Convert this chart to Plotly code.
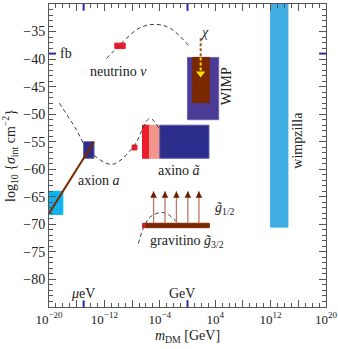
import plotly.graph_objects as go

# ---------------- data (log10 m/GeV , log10 sigma/cm^2) ----------------
region_names = ["neutrino", "axion_cdm", "axion_hot", "axion_misc",
                "axino_hot", "axino_warm", "axino_cold",
                "wimp", "wimp_core", "wimpzilla",
                "gravitino_warm", "gravitino"]
region_logm_lo = [-10.5, -15.0, -20.0, -8.0, -6.5, -5.5, -4.0, 0.0, 0.75, 12.0, -6.5, -6.0]
region_logm_hi = [-9.0, -13.5, -18.0, -7.3, -5.5, -4.0, 3.1, 4.5, 3.15, 14.5, -6.0, 3.15]
region_sig_lo = [-38.1, -58.0, -68.2, -56.5, -58.0, -58.0, -58.0, -51.0, -47.9, -70.5, -70.6, -70.6]
region_sig_hi = [-37.1, -55.0, -64.0, -55.6, -52.0, -52.0, -52.0, -39.7, -39.7, -30.0, -69.8, -69.8]

axion_line_logm = [-20.0, -13.5]
axion_line_sig = [-68.0, -55.0]

gravitino_arrow_logm = [-4.9, -3.25, -1.6, 0.05, 1.65]
gravitino_arrow_base = -69.8
gravitino_arrow_tip = -64.0

chi_logm = 1.9
chi_sig_start = -36.2
chi_sig_mid = -39.7
chi_sig_tip = -42.6

curve_upper_logm = [-11.7, -9.75, -7.0, -4.7, -2.5, 0.4]
curve_upper_sig = [-39.9, -37.4, -34.4, -33.7, -34.4, -37.9]
curve_lower_logm = [-18.5, -16.2, -14.3, -10.9, -7.8, -5.4, -2.5]
curve_lower_sig = [-48.0, -52.5, -56.5, -59.1, -55.9, -50.8, -57.0]
curve_grav_logm = [-7.1, -6.1, -5.1, -3.3, -1.1]
curve_grav_sig = [-73.5, -69.9, -68.4, -67.9, -70.2]

label_text = ["neutrino <i>ν</i>", "axion <i>a</i>", "axino <i>ã</i>",
              "gravitino <i>g̃</i><sub>3/2</sub>", "<i>g̃</i><sub>1/2</sub>",
              "<i>χ</i>", "fb", "<i>μ</i>eV", "GeV"]
label_logm = [-9.9, -12.8, -1.3, -0.1, 5.4, 2.5, -17.6, -15.1, -0.8]
label_sig = [-42.3, -62.0, -60.2, -73.2, -67.2, -35.2, -39.0, -82.6, -82.6]

vlabel_text = ["WIMP", "wimpzilla"]
vlabel_logm = [5.65, 15.75]
vlabel_sig = [-45.0, -54.7]

mark_logm = [-15.0, 0.0]   # μeV and GeV marks
mark_sig = [-39.0]         # femtobarn mark

x_tickvals = [-20, -16, -12, -8, -4, 0, 4, 8, 12, 16, 20]
x_ticktext = ["10<sup>−20</sup>", "", "10<sup>−12</sup>", "", "10<sup>−4</sup>", "",
              "10<sup>4</sup>", "", "10<sup>12</sup>", "", "10<sup>20</sup>"]
y_tickvals = [-85, -80, -75, -70, -65, -60, -55, -50, -45, -40, -35, -30]
y_ticktext = ["", "−80", "−75", "−70", "−65", "−60", "−55", "−50", "−45", "−40", "−35", ""]

# ---------------- styles ----------------
FONT = "Liberation Serif"
TXT = "#222222"
AX = "#555555"
BROWN = "#7a2800"
region_style = {
    "neutrino": ("#ec1c2c", "#ec1c2c"),
    "axion_cdm": ("#2b2c8c", "#5a5aa8"),
    "axion_hot": ("#10b2ee", "#10b2ee"),
    "axion_misc": ("#ec1c2c", "#ec1c2c"),
    "axino_hot": ("#ec1c2c", "#ec1c2c"),
    "axino_warm": ("#f4968c", "#f4968c"),
    "axino_cold": ("#2b2c8c", "#5a5aa8"),
    "wimp": ("#4a3c94", "#6c62b2"),
    "wimp_core": (BROWN, BROWN),
    "wimpzilla": ("#40aee2", "#40aee2"),
    "gravitino_warm": ("#ec1c2c", "#ec1c2c"),
    "gravitino": (BROWN, BROWN),
}

fig = go.Figure()
shapes = []
for n, x0, x1, y0, y1 in zip(region_names, region_logm_lo, region_logm_hi, region_sig_lo, region_sig_hi):
    fill, edge = region_style[n]
    shapes.append(dict(type="rect", xref="x", yref="y", x0=x0, x1=x1, y0=y0, y1=y1,
                       fillcolor=fill, line=dict(color=edge, width=1), layer="below"))

# blue marks on frame
for xm in mark_logm:
    shapes.append(dict(type="line", xref="x", yref="paper", x0=xm, x1=xm, y0=0, y1=0.022,
                       line=dict(color="#2a2aa0", width=2), layer="above"))
    shapes.append(dict(type="line", xref="x", yref="paper", x0=xm, x1=xm, y0=1, y1=0.978,
                       line=dict(color="#2a2aa0", width=2), layer="above"))
for ym in mark_sig:
    shapes.append(dict(type="line", xref="paper", yref="y", x0=0, x1=0.025, y0=ym, y1=ym,
                       line=dict(color="#2a2aa0", width=2), layer="above"))
    shapes.append(dict(type="line", xref="paper", yref="y", x0=1, x1=0.975, y0=ym, y1=ym,
                       line=dict(color="#2a2aa0", width=2), layer="above"))

# dashed curves
for cx, cy in [(curve_upper_logm, curve_upper_sig), (curve_lower_logm, curve_lower_sig),
               (curve_grav_logm, curve_grav_sig)]:
    fig.add_trace(go.Scatter(x=cx, y=cy, mode="lines",
                             line=dict(color="#3a3a3a", width=1, dash="4px,3px", shape="spline"),
                             hoverinfo="skip"))

# axion line
fig.add_trace(go.Scatter(x=axion_line_logm, y=axion_line_sig, mode="lines",
                         line=dict(color=BROWN, width=2), hoverinfo="skip"))

# gravitino arrows (light stems)
for xa in gravitino_arrow_logm:
    fig.add_trace(go.Scatter(x=[xa, xa], y=[gravitino_arrow_base, gravitino_arrow_tip], mode="lines",
                             line=dict(color="#b87a60", width=1.3), hoverinfo="skip"))

# chi arrow
fig.add_trace(go.Scatter(x=[chi_logm, chi_logm], y=[chi_sig_start, chi_sig_mid], mode="lines",
                         line=dict(color="#a0522d", width=2, dash="3px,2px"), hoverinfo="skip"))
fig.add_trace(go.Scatter(x=[chi_logm, chi_logm], y=[chi_sig_mid, chi_sig_tip], mode="lines",
                         line=dict(color="#ffe000", width=2, dash="3px,2px"), hoverinfo="skip"))
fig.add_trace(go.Scatter(x=[chi_logm], y=[chi_sig_tip], mode="markers",
                         marker=dict(symbol="triangle-down", size=8, color="#ffe000"),
                         hoverinfo="skip"))

annotations = []
for xa in gravitino_arrow_logm:
    annotations.append(dict(x=xa, y=gravitino_arrow_tip, ax=xa, ay=gravitino_arrow_tip - 0.6,
                            xref="x", yref="y", axref="x", ayref="y", text="", showarrow=True,
                            arrowhead=2, arrowsize=1, arrowwidth=1.3, arrowcolor="#6a2000"))
for t, x, y in zip(label_text, label_logm, label_sig):
    annotations.append(dict(x=x, y=y, xref="x", yref="y", text=t, showarrow=False,
                            font=dict(family=FONT, size=14, color=TXT)))
for t, x, y in zip(vlabel_text, vlabel_logm, vlabel_sig):
    annotations.append(dict(x=x, y=y, xref="x", yref="y", text=t, showarrow=False, textangle=-90,
                            font=dict(family=FONT, size=14, color=TXT)))

fig.update_layout(
    width=338, height=349,
    margin=dict(l=49, r=12, t=4, b=42, autoexpand=False),
    paper_bgcolor="white", plot_bgcolor="white",
    showlegend=False,
    shapes=shapes, annotations=annotations,
    font=dict(family=FONT, size=14, color=TXT),
)
axis_common = dict(showgrid=False, zeroline=False, showline=True, linecolor=AX, linewidth=1,
                   mirror="allticks", ticks="inside", tickcolor=AX, ticklen=7, tickwidth=1,
                   automargin=False)
fig.update_xaxes(range=[-20, 20], tickmode="array", tickvals=x_tickvals, ticktext=x_ticktext,
                 tickfont=dict(family=FONT, size=13, color=TXT),
                 minor=dict(dtick=1, ticks="inside", ticklen=4, tickcolor=AX, showgrid=False),
                 title=dict(text="<i>m</i><sub>DM</sub> [GeV]", standoff=4,
                            font=dict(family=FONT, size=14, color=TXT)),
                 **axis_common)
fig.update_yaxes(range=[-85, -30], tickmode="array", tickvals=y_tickvals, ticktext=y_ticktext,
                 tickfont=dict(family=FONT, size=14, color=TXT),
                 minor=dict(dtick=1, ticks="inside", ticklen=4, tickcolor=AX, showgrid=False),
                 title=dict(text="log<sub>10</sub> {<i>σ</i><sub>int</sub> cm<sup>−2</sup>}", standoff=4,
                            font=dict(family=FONT, size=14, color=TXT)),
                 **axis_common)

fig.write_html("out.html", config={"displayModeBar": False},
               post_script="document.body.style.margin='0px';")
